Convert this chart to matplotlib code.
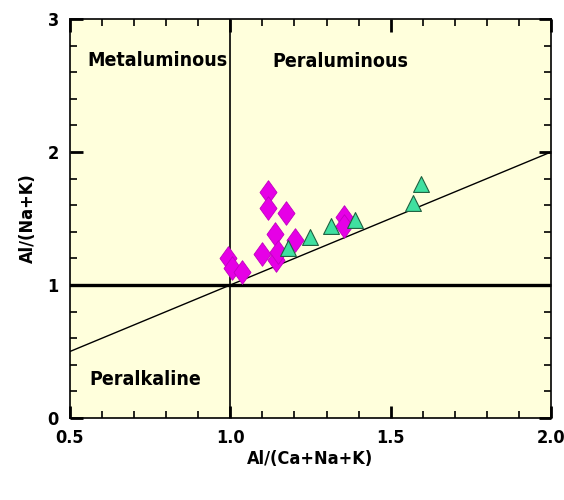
import matplotlib.pyplot as plt
from matplotlib.ticker import MultipleLocator

plt.rcParams["font.family"] = ["Liberation Sans Narrow", "DejaVu Sans"]
plt.rcParams["font.weight"] = "bold"
plt.rcParams["font.stretch"] = "condensed"

# magenta diamonds
dia_x = [1.116, 1.116, 1.175, 1.138, 1.203, 1.10, 1.141, 1.15, 0.994, 1.006, 1.038, 1.353, 1.353]
dia_y = [1.70, 1.58, 1.54, 1.38, 1.34, 1.23, 1.19, 1.25, 1.20, 1.13, 1.10, 1.51, 1.44]

# green triangles
tri_x = [1.181, 1.25, 1.3125, 1.39, 1.569, 1.594]
tri_y = [1.28, 1.36, 1.44, 1.49, 1.62, 1.76]

x_ticks = [0.5, 1.0, 1.5, 2.0]
y_ticks = [0, 1, 2, 3]

fig = plt.figure(figsize=(5.64, 5.0), dpi=100)
ax = fig.add_axes([0.124, 0.164, 0.853, 0.798])
ax.set_facecolor("#ffffdc")

ax.plot([0.5, 2.0], [0.5, 2.0], color="black", lw=1.0, zorder=2)
ax.axhline(1.0, color="black", lw=2.4, zorder=2)
ax.axvline(1.0, color="black", lw=1.2, zorder=2)

diamond = [(0, 1), (0.72, 0), (0, -1), (-0.72, 0), (0, 1)]
ax.scatter(dia_x, dia_y, marker=diamond, s=290, color="#e600e6", edgecolors="#c000c0",
           linewidths=0.6, zorder=3)
ax.scatter(tri_x, tri_y, marker="^", s=130, color="#40e0a0", edgecolors="#206040",
           linewidths=0.8, zorder=4)

ax.text(0.553, 2.69, "Metaluminous", fontsize=14, va="center")
ax.text(1.131, 2.68, "Peraluminous", fontsize=14, va="center")
ax.text(0.56, 0.29, "Peralkaline", fontsize=14, va="center")

ax.set_xlim(0.5, 2.0)
ax.set_ylim(0, 3)
ax.set_xticks(x_ticks)
ax.set_xticklabels(["%.1f" % v for v in x_ticks])
ax.set_yticks(y_ticks)
ax.xaxis.set_minor_locator(MultipleLocator(0.1))
ax.yaxis.set_minor_locator(MultipleLocator(0.2))
ax.tick_params(which="both", direction="in", top=True, right=True, labelsize=13, width=1.2)
ax.tick_params(which="major", length=9, width=2, pad=8)
ax.tick_params(which="minor", length=5)
for s in ax.spines.values():
    s.set_linewidth(1.2)

ax.set_xlabel("Al/(Ca+Na+K)", fontsize=13, fontweight="bold", labelpad=2)
ax.set_ylabel("Al/(Na+K)", fontsize=13, fontweight="bold", labelpad=8)

fig.savefig("out.png", dpi=100)
